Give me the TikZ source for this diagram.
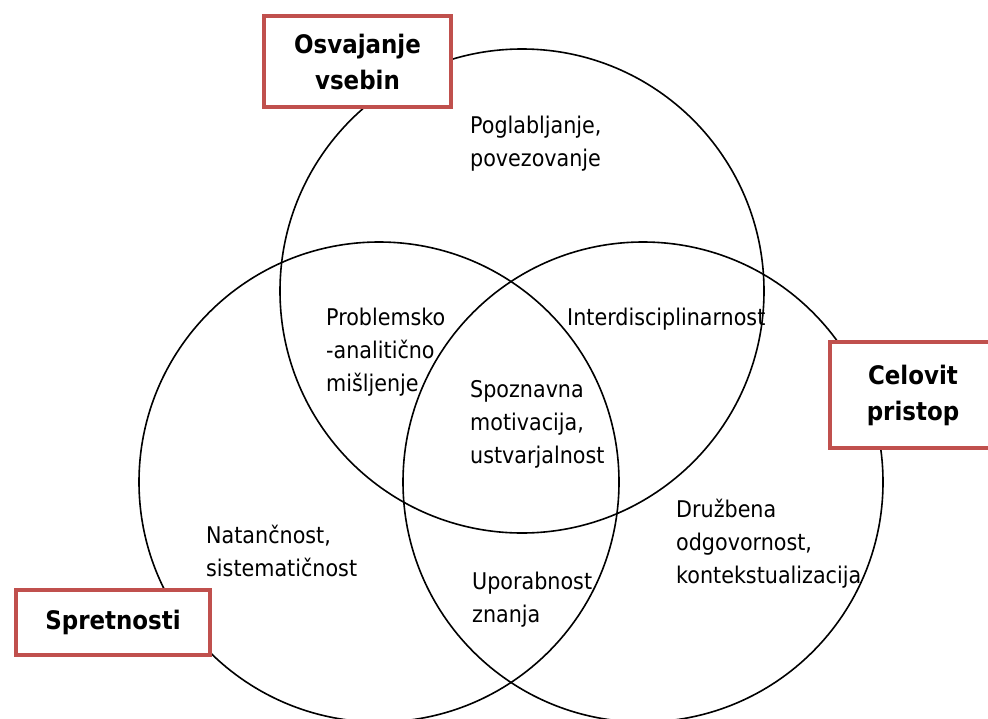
\documentclass[tikz,border=0pt]{standalone}
\usepackage{fontspec}
\setmainfont{DejaVu Sans Condensed}
\definecolor{boxred}{RGB}{192,80,77}

\begin{document}
\begin{tikzpicture}[x=1pt,y=-1pt]

\tikzset{ring/.style={draw=black, line width=1.6pt},
  label/.style={anchor=north west, inner sep=0pt, align=left, font=\fontsize{23}{33}\selectfont},
  headbox/.style={draw=boxred, line width=4pt, fill=white, inner sep=0pt, align=center, font=\fontsize{25.5}{36}\selectfont\bfseries}}

\useasboundingbox (0,0) rectangle (988,718);

% the three circles
\draw[ring] (522,291) circle [radius=242pt];
\draw[ring] (379,482) circle [radius=240pt];
\draw[ring] (643,482) circle [radius=240pt];

% headings
\node[headbox, minimum width=187pt, minimum height=91pt] (content) at (357.5,61.5) {Osvajanje\\vsebin};
\node[headbox, minimum width=166pt, minimum height=106pt] (holistic) at (913,395) {Celovit\\pristop};
\node[headbox, minimum width=194pt, minimum height=65pt] (skills) at (113,622.5) {Spretnosti};

% labels in the regions
\node[label] (deepen) at (470,116) {Poglabljanje,\\povezovanje};
\node[label] (problem) at (326,308) {Problemsko\\-analitično\\mišljenje};
\node[label] (interdis) at (567,308) {Interdisciplinarnost};
\node[label] (motiv) at (470,380) {Spoznavna\\motivacija,\\ustvarjalnost};
\node[label] (precise) at (206,525) {Natančnost,\\sistematičnost};
\node[label] (usable) at (472,572) {Uporabnost\\znanja};
\node[label] (social) at (676,499) {Družbena\\odgovornost,\\kontekstualizacija};

\end{tikzpicture}
\end{document}
